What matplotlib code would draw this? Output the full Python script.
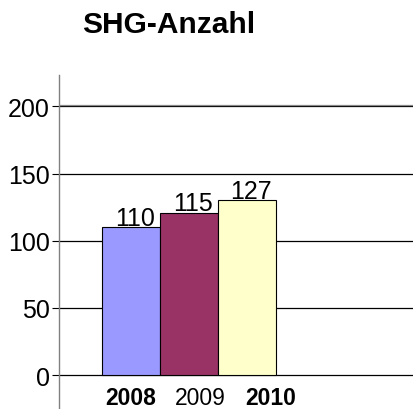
import matplotlib
matplotlib.use("Agg")
import matplotlib.pyplot as plt

plt.rcParams['font.family'] = ['Liberation Sans', 'DejaVu Sans']

years = ["2008", "2009", "2010"]
year_bold = [True, False, True]
heights = [110, 121, 130]
value_labels = ["110", "115", "127"]
colors = ["#9999FF", "#993366", "#FFFFCC"]
yticks = [0, 50, 100, 150, 200]

fig = plt.figure(figsize=(4.14, 4.10), dpi=100)
ax = fig.add_axes([0.1425, 0.0, 0.8575, 0.8146])

x = list(range(len(years)))
ax.set_axisbelow(True)
ax.bar(x, heights, width=1.0, color=colors, edgecolor="black", linewidth=0.8, zorder=3)

for xi, h, lab in zip(x, heights, value_labels):
    ax.annotate(lab, (xi, h), xytext=(3, 1.8), textcoords="offset points",
                ha="center", va="baseline", fontsize=18)

# year labels sit below the zero line, spaced a bit wider than the bars
for i, (yr, b) in enumerate(zip(years, year_bold)):
    ax.annotate(yr, (i * 1.2, 0), xytext=(0, -8), textcoords="offset points",
                ha="center", va="top", fontsize=16.5,
                fontweight="bold" if b else "normal")

ax.set_xlim(-1.237, 4.87)
ax.set_ylim(-25.3, 223.4)
ax.set_yticks(yticks)
ax.set_yticklabels([str(v) for v in yticks], fontsize=18)
ax.tick_params(axis="y", length=5, width=0.8, pad=1.5, color="black")
ax.set_xticks([])
ax.yaxis.grid(True, color="black", linewidth=0.9)
ax.axhline(201.3, color="#888888", linewidth=0.9, zorder=1)

for s in ["top", "right", "bottom"]:
    ax.spines[s].set_visible(False)
ax.spines["left"].set_color("#808080")
ax.spines["left"].set_linewidth(1.0)

fig.text(0.408, 0.94, "SHG-Anzahl", ha="center", va="center",
         fontsize=21.5, fontweight="bold")

fig.savefig("out.png", dpi=100)
